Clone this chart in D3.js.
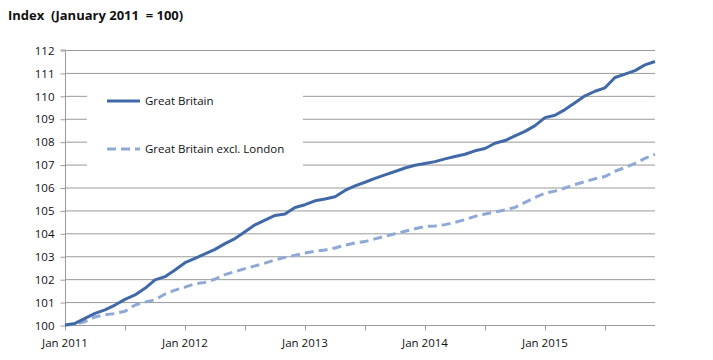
<!DOCTYPE html>
<html><head><meta charset="utf-8">
<script src="https://cdn.jsdelivr.net/npm/d3@7"></script>
<style>body{margin:0;background:#fff}svg{display:block}text{font-family:"Open Sans","Noto Sans",sans-serif;fill:#111}</style>
</head><body><svg id="c" width="713" height="360"></svg>
<script>
const months = d3.range(60);
const xLabels = ["Jan 2011","Jan 2012","Jan 2013","Jan 2014","Jan 2015"];
const yTicks = [100,101,102,103,104,105,106,107,108,109,110,111,112];
const gb = [100.0,100.07,100.29,100.51,100.66,100.87,101.12,101.31,101.6,101.97,102.11,102.4,
102.72,102.91,103.1,103.3,103.55,103.77,104.07,104.37,104.58,104.78,104.84,105.13,
105.25,105.42,105.5,105.6,105.87,106.07,106.23,106.4,106.55,106.7,106.85,106.97,
107.05,107.13,107.25,107.35,107.45,107.6,107.7,107.93,108.05,108.25,108.45,108.7,
109.05,109.15,109.4,109.7,110.0,110.2,110.35,110.8,110.95,111.1,111.35,111.5];
const gbExLondon = [100.0,100.03,100.15,100.35,100.45,100.5,100.6,100.87,101.0,101.1,101.35,101.52,
101.65,101.8,101.86,102.0,102.2,102.33,102.46,102.58,102.7,102.84,102.95,103.04,
103.14,103.22,103.27,103.36,103.48,103.58,103.64,103.76,103.87,103.98,104.09,104.2,
104.3,104.32,104.38,104.48,104.6,104.74,104.84,104.93,105.02,105.13,105.35,105.57,
105.75,105.84,105.98,106.13,106.26,106.38,106.48,106.71,106.87,107.05,107.27,107.45];
const seriesNames = ["Great Britain","Great Britain excl. London"];

const svg = d3.select("#c");
const x = d3.scaleLinear().domain([0,59]).range([65,655]);
const y = d3.scaleLinear().domain([100,112]).range([325,50]);

svg.append("text").attr("x",8).attr("y",20).attr("font-size",13).attr("font-weight","bold")
  .attr("xml:space","preserve").text("Index  (January 2011  = 100)");

// gridlines
svg.append("g").selectAll("line").data(yTicks.filter(d=>d>100)).join("line")
  .attr("x1",65).attr("x2",655).attr("y1",d=>y(d)+0.5).attr("y2",d=>y(d)+0.5)
  .attr("stroke","#9a9a9a").attr("stroke-width",1);

// y axis
const yAxis = svg.append("g").attr("transform","translate(65.5,0.5)")
  .call(d3.axisLeft(y).tickValues(yTicks).tickSize(5).tickPadding(6).tickFormat(d3.format("d")));
yAxis.select(".domain").attr("stroke","#9a9a9a").attr("d","M-5,"+(y(112)-0.5)+"H0V"+y(100));
yAxis.selectAll(".tick line").attr("stroke","#9a9a9a");
yAxis.selectAll("text").attr("font-size",11.5).attr("fill","#111").style("font-family",'"Open Sans",sans-serif');

// x axis
const xAxis = svg.append("g").attr("transform","translate(0,325.5)")
  .call(d3.axisBottom(x).tickValues(d3.range(0,60,6)).tickSize(5).tickFormat(""));
xAxis.select(".domain").attr("stroke","#9a9a9a").attr("d","M65,0H655");
xAxis.selectAll(".tick line").attr("stroke","#9a9a9a");
svg.append("g").selectAll("text").data(xLabels).join("text")
  .attr("x",(d,i)=>x(i*12)).attr("y",347).attr("text-anchor","middle").attr("font-size",11.5).text(d=>d);

// legend box
svg.append("rect").attr("x",87).attr("y",82).attr("width",216).attr("height",86).attr("fill","#fff");

const line = d3.line().x((d,i)=>x(i)).y(d=>y(d));
svg.append("path").datum(gbExLondon).attr("d",line).attr("fill","none")
  .attr("stroke","#8FA9D6").attr("stroke-width",3).attr("stroke-dasharray","9,5");
svg.append("path").datum(gb).attr("d",line).attr("fill","none")
  .attr("stroke","#4169A8").attr("stroke-width",3).attr("stroke-linejoin","round");

// legend
const leg = [{n:seriesNames[0],c:"#4169A8",d:null,y:101},{n:seriesNames[1],c:"#8FA9D6",d:"9,5",y:149}];
leg.forEach(l=>{
  svg.append("line").attr("x1",107).attr("x2",140).attr("y1",l.y).attr("y2",l.y)
    .attr("stroke",l.c).attr("stroke-width",3).attr("stroke-dasharray",l.d);
  svg.append("text").attr("x",145).attr("y",l.y+4).attr("font-size",11.5).text(l.n);
});
</script></body></html>
